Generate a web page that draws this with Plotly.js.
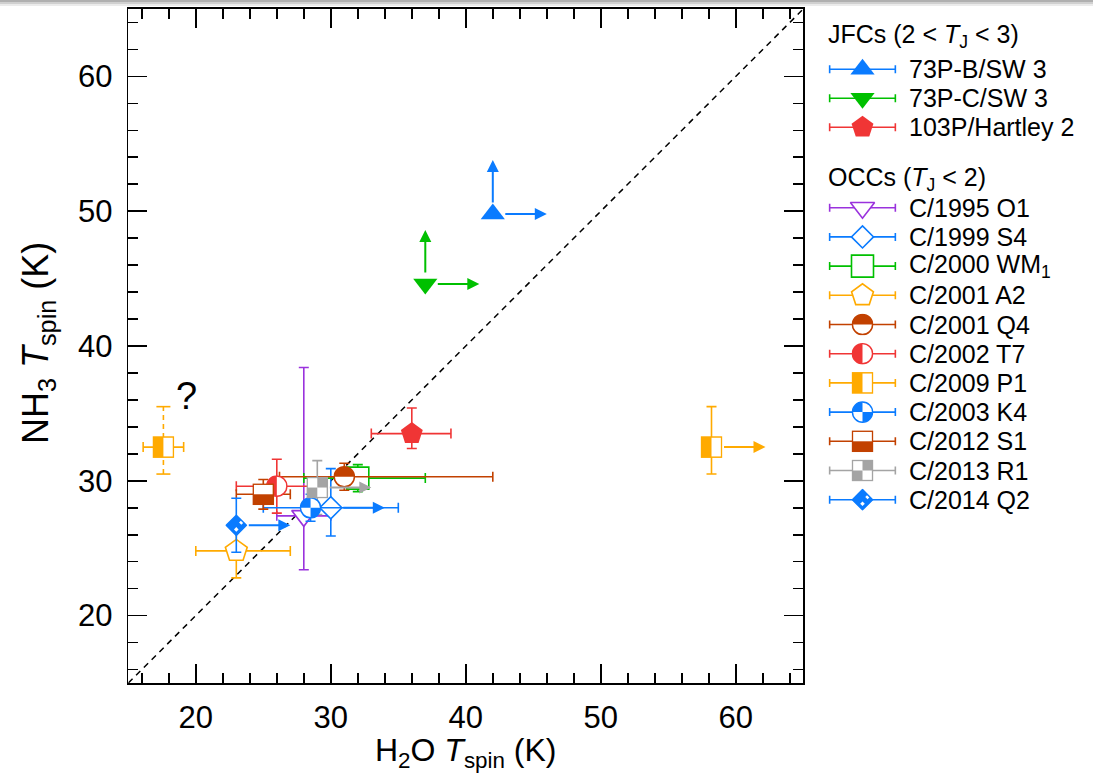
<!DOCTYPE html>
<html><head><meta charset="utf-8">
<script src="https://cdn.plot.ly/plotly-3.0.1.min.js"></script>
<style>html,body{margin:0;padding:0;background:#fff}</style>
</head><body><div id="chart" style="width:1093px;height:774px"></div>
<script>
// ---------------- DATA ----------------
const pointComet   = ['73P-B/SW 3','73P-C/SW 3','103P/Hartley 2','C/1995 O1','C/1999 S4','C/2000 WM1','C/2001 A2','C/2001 Q4','C/2002 T7','C/2009 P1','C/2009 P1','C/2003 K4','C/2012 S1','C/2013 R1','C/2014 Q2'];
const h2oTspin     = [42,   37,   36,  28,   30,  32,  23,  31,  26,  17.6, 58.2, 28.5, 25,  29,  23];
const nh3Tspin     = [49.8, 44.6, 33.5,27.4, 28,  30.2,24.8,30.3,29.6,32.5, 32.5, 28,   29,  29.5,26.7];
const h2oErrPlus   = [0,    0,    2.9, 2,    0,   5,   4,   11,  3,   1.5,  0,    6.5,  2,   0,   0];
const h2oErrMinus  = [0,    0,    3,   2,    0,   4,   3,   4.8, 3,   1.5,  0,    3.5,  2,   0,   0];
const nh3ErrPlus   = [0,    0,    1.9, 11,   2.9, 1,   2,   1,   2,   3,    3,    1,    1.1, 2,   2];
const nh3ErrMinus  = [0,    0,    1.1, 4,    2.1, 1,   2,   1,   2,   2,    2,    1,    1.1, 2,   2];
const h2oLowerLimit= [1,    1,    0,   0,    1,   0,   0,   0,   0,   0,    1,    0,    0,   1,   1];
const nh3LowerLimit= [1,    1,    0,   0,    0,   0,   0,   0,   0,   0,    0,    0,    0,   0,   0];
const nh3Uncertain = [0,    0,    0,   0,    0,   0,   0,   0,   0,   1,    0,    0,    0,   0,   0];
const limitArrowLen = 4;

const jfcNames = ['73P-B/SW 3','73P-C/SW 3','103P/Hartley 2'];
const occNames = ['C/1995 O1','C/1999 S4','C/2000 WM1','C/2001 A2','C/2001 Q4','C/2002 T7','C/2009 P1','C/2003 K4','C/2012 S1','C/2013 R1','C/2014 Q2'];
const jfcHeader = 'JFCs (2 &lt; <i>T</i><sub>J</sub> &lt; 3)';
const occHeader = 'OCCs (<i>T</i><sub>J</sub> &lt; 2)';
const questionMark = {text: '?', x: 19.3, y: 36.3};

// ---------------- STYLE ----------------
const C = {blue:'#0a7bff', green:'#00c000', red:'#f03535', purple:'#9a32dd', orange:'#ffaa00', brown:'#c24100', gray:'#a4a4a4'};
const style = {
  '73P-B/SW 3':     {c:C.blue,   kind:'triangle-up',   fill:true},
  '73P-C/SW 3':     {c:C.green,  kind:'triangle-down', fill:true},
  '103P/Hartley 2': {c:C.red,    kind:'pentagon',      fill:true},
  'C/1995 O1':      {c:C.purple, kind:'triangle-down', fill:false},
  'C/1999 S4':      {c:C.blue,   kind:'diamond',       fill:false},
  'C/2000 WM1':     {c:C.green,  kind:'square',        fill:false},
  'C/2001 A2':      {c:C.orange, kind:'pentagon',      fill:false},
  'C/2001 Q4':      {c:C.brown,  kind:'img', img:'circTop'},
  'C/2002 T7':      {c:C.red,    kind:'img', img:'circLeft'},
  'C/2009 P1':      {c:C.orange, kind:'img', img:'sqLeft'},
  'C/2003 K4':      {c:C.blue,   kind:'img', img:'circQuad'},
  'C/2012 S1':      {c:C.brown,  kind:'img', img:'sqBottom'},
  'C/2013 R1':      {c:C.gray,   kind:'img', img:'sqCheck'},
  'C/2014 Q2':      {c:C.blue,   kind:'img', img:'diaCheck'}
};
const labelHtml = n => n === 'C/2000 WM1' ? 'C/2000 WM<sub>1</sub>' : n;
const FONT = 'Liberation Sans, Arial, Helvetica, sans-serif';
const W = 1093, H = 774;
const plotL = 128.3, plotR = 803.3, plotT = 9, plotB = 683;
const xRange = [15, 65], yRange = [15, 65];
const pxPerX = (plotR - plotL) / (xRange[1] - xRange[0]);
const pxPerY = (plotB - plotT) / (yRange[1] - yRange[0]);
const MS = 22;

function svgUri(kind, c) {
  const sw = 1.6;
  let body = '';
  if (kind === 'circTop') {
    body = `<circle cx='12' cy='12' r='11' fill='white'/><path d='M1,12 A11,11 0 0 1 23,12 Z' fill='${c}'/><circle cx='12' cy='12' r='11' fill='none' stroke='${c}' stroke-width='${sw}'/>`;
  } else if (kind === 'circLeft') {
    body = `<circle cx='12' cy='12' r='11' fill='white'/><path d='M12,1 A11,11 0 0 0 12,23 Z' fill='${c}'/><circle cx='12' cy='12' r='11' fill='none' stroke='${c}' stroke-width='${sw}'/>`;
  } else if (kind === 'circQuad') {
    body = `<circle cx='12' cy='12' r='11' fill='white'/><path d='M12,12 L1,12 A11,11 0 0 1 12,1 Z' fill='${c}'/><path d='M12,12 L23,12 A11,11 0 0 1 12,23 Z' fill='${c}'/><circle cx='12' cy='12' r='11' fill='none' stroke='${c}' stroke-width='${sw}'/>`;
  } else if (kind === 'sqLeft') {
    body = `<rect x='1' y='1' width='22' height='22' fill='white'/><rect x='1' y='1' width='11' height='22' fill='${c}'/><rect x='1' y='1' width='22' height='22' fill='none' stroke='${c}' stroke-width='${sw}'/>`;
  } else if (kind === 'sqBottom') {
    body = `<rect x='1' y='1' width='22' height='22' fill='white'/><rect x='1' y='12' width='22' height='11' fill='${c}'/><rect x='1' y='1' width='22' height='22' fill='none' stroke='${c}' stroke-width='${sw}'/>`;
  } else if (kind === 'sqCheck') {
    body = `<rect x='1' y='1' width='22' height='22' fill='white'/><rect x='12' y='1' width='11' height='11' fill='${c}'/><rect x='1' y='12' width='11' height='11' fill='${c}'/><rect x='1' y='1' width='22' height='22' fill='none' stroke='${c}' stroke-width='${sw}'/>`;
  } else if (kind === 'diaCheck') {
    body = `<polygon points='12,1 23,12 12,23 1,12' fill='${c}'/><polygon points='17.5,6.5 20,9 17.5,11.5 15,9' fill='white'/><polygon points='12,14 14.5,16.5 12,19 9.5,16.5' fill='white'/><polygon points='12,1 23,12 12,23 1,12' fill='none' stroke='${c}' stroke-width='${sw}'/>`;
  }
  const svg = `<svg xmlns='http://www.w3.org/2000/svg' width='24' height='24' viewBox='0 0 24 24'>${body}</svg>`;
  return 'data:image/svg+xml;charset=utf-8,' + encodeURIComponent(svg);
}

function nativeMarker(st, size) {
  const sz = st.kind === 'diamond' ? 17 : (st.kind === 'pentagon' ? 23 : (st.kind.startsWith('triangle') ? 21 : size));
  return {symbol: st.kind, size: sz, color: st.fill ? st.c : 'white', line: {color: st.c, width: st.fill ? 0 : 1.6}};
}

const traces = [];
const images = [];
const annotations = [];

// diagonal one-to-one line
traces.push({x: xRange, y: yRange, mode: 'lines', line: {color: 'black', width: 1.5, dash: '6px,5px'}, hoverinfo: 'skip', xaxis: 'x', yaxis: 'y'});

// data points
for (let i = 0; i < pointComet.length; i++) {
  const st = style[pointComet[i]];
  const hasX = h2oErrPlus[i] + h2oErrMinus[i] > 0;
  const hasY = (nh3ErrPlus[i] + nh3ErrMinus[i] > 0) && !nh3Uncertain[i];
  if (nh3Uncertain[i]) {
    traces.push({x: [h2oTspin[i], h2oTspin[i]], y: [nh3Tspin[i] - nh3ErrMinus[i], nh3Tspin[i] + nh3ErrPlus[i]],
      mode: 'lines+markers', line: {color: st.c, width: 1.6, dash: '5px,4px'},
      marker: {symbol: 'line-ew', size: 10, line: {color: st.c, width: 1.6}}, xaxis: 'x', yaxis: 'y', cliponaxis: false});
  }
  const tr = {x: [h2oTspin[i]], y: [nh3Tspin[i]], mode: 'markers', xaxis: 'x', yaxis: 'y', cliponaxis: false,
    marker: st.kind === 'img' ? {size: MS, color: 'rgba(0,0,0,0)'} : nativeMarker(st, MS)};
  if (hasX) tr.error_x = {type: 'data', symmetric: false, array: [h2oErrPlus[i]], arrayminus: [h2oErrMinus[i]], color: st.c, thickness: 1.6, width: 5};
  if (hasY) tr.error_y = {type: 'data', symmetric: false, array: [nh3ErrPlus[i]], arrayminus: [nh3ErrMinus[i]], color: st.c, thickness: 1.6, width: 5};
  traces.push(tr);
  if (st.kind === 'img') {
    images.push({source: svgUri(st.img, st.c), xref: 'x', yref: 'y', x: h2oTspin[i], y: nh3Tspin[i],
      sizex: MS / pxPerX, sizey: MS / pxPerY, xanchor: 'center', yanchor: 'middle', sizing: 'stretch', layer: 'above'});
  }
  const arrowBase = {xref: 'x', yref: 'y', axref: 'x', ayref: 'y', showarrow: true, text: '', arrowhead: 2, arrowsize: 1.2, arrowwidth: 2, arrowcolor: st.c, startstandoff: 11};
  if (h2oLowerLimit[i]) annotations.push(Object.assign({}, arrowBase, {x: h2oTspin[i] + limitArrowLen, y: nh3Tspin[i], ax: h2oTspin[i], ay: nh3Tspin[i]}));
  if (nh3LowerLimit[i]) annotations.push(Object.assign({}, arrowBase, {x: h2oTspin[i], y: nh3Tspin[i] + limitArrowLen, ax: h2oTspin[i], ay: nh3Tspin[i], startstandoff: 10}));
}

annotations.push({xref: 'x', yref: 'y', x: questionMark.x, y: questionMark.y, text: questionMark.text, showarrow: false, font: {family: FONT, size: 38, color: 'black'}});

// ---------------- LEGEND (on a pixel-unit helper axis) ----------------
const legX0 = 819.75;
const lineX0 = 830, lineX1 = 895.7, markX = 862.5, textX = 907;
const LEGFONT = 25;
function legendRow(name, rowY) {
  const st = style[name];
  const yy = H - rowY;
  const tr = {x: [markX], y: [yy], mode: 'markers', xaxis: 'x2', yaxis: 'y2', cliponaxis: false,
    error_x: {type: 'constant', value: (lineX1 - lineX0) / 2, color: st.c, thickness: 1.6, width: 4},
    marker: st.kind === 'img' ? {size: MS, color: 'rgba(0,0,0,0)'} : nativeMarker(st, MS)};
  traces.push(tr);
  if (st.kind === 'img') images.push({source: svgUri(st.img, st.c), xref: 'x2', yref: 'y2', x: markX, y: yy, sizex: MS, sizey: MS, xanchor: 'center', yanchor: 'middle', sizing: 'stretch', layer: 'above'});
  annotations.push({xref: 'x2', yref: 'y2', x: textX, y: yy, text: labelHtml(name), showarrow: false, xanchor: 'left', yanchor: 'middle', font: {family: FONT, size: LEGFONT, color: 'black'}});
}
annotations.push({xref: 'x2', yref: 'y2', x: 826, y: H - 36, text: jfcHeader, showarrow: false, xanchor: 'left', yanchor: 'middle', font: {family: FONT, size: LEGFONT, color: 'black'}});
jfcNames.forEach((n, k) => legendRow(n, 69.3 + k * 29));
annotations.push({xref: 'x2', yref: 'y2', x: 826, y: H - 179, text: occHeader, showarrow: false, xanchor: 'left', yanchor: 'middle', font: {family: FONT, size: LEGFONT, color: 'black'}});
occNames.forEach((n, k) => legendRow(n, 207.7 + k * 29.2));

// axis titles
annotations.push({xref: 'paper', yref: 'paper', x: (plotL + plotR) / 2 / W, y: 1 - 752 / H, text: 'H<sub>2</sub>O <i>T</i><sub>spin</sub> (K)', showarrow: false, xanchor: 'center', yanchor: 'middle', font: {family: FONT, size: 32, color: 'black'}});
annotations.push({xref: 'paper', yref: 'paper', x: 38 / W, y: 1 - 343 / H, text: 'NH<sub>3</sub> <i>T</i><sub>spin</sub> (K)', textangle: -90, showarrow: false, xanchor: 'center', yanchor: 'middle', font: {family: FONT, size: 36, color: 'black'}});

const axisCommon = {showline: true, linecolor: 'black', linewidth: 1.6, mirror: 'allticks', ticks: 'inside', ticklen: 19, tickwidth: 1.6, tickcolor: 'black',
  dtick: 10, tick0: 0, showgrid: false, zeroline: false, fixedrange: true, automargin: false,
  minor: {dtick: 2, tick0: 0, ticks: 'inside', ticklen: 10, tickwidth: 1.6, tickcolor: 'black', showgrid: false},
  tickfont: {family: FONT, size: 31, color: 'black'}};

const layout = {
  width: W, height: H, margin: {l: 0, r: 0, t: 0, b: 0}, paper_bgcolor: 'white', plot_bgcolor: 'white', showlegend: false,
  xaxis: Object.assign({}, axisCommon, {domain: [plotL / W, plotR / W], range: xRange, anchor: 'y', ticklabelstandoff: 6}),
  yaxis: Object.assign({}, axisCommon, {domain: [1 - plotB / H, 1 - plotT / H], range: yRange, anchor: 'x', ticklabelstandoff: 8}),
  xaxis2: {domain: [legX0 / W, 1], range: [legX0, W], visible: false, fixedrange: true, anchor: 'y2'},
  yaxis2: {domain: [0, 1], range: [0, H], visible: false, fixedrange: true, anchor: 'x2'},
  images: images, annotations: annotations,
  shapes: [
    {type: 'rect', xref: 'paper', yref: 'paper', x0: 0, x1: 1, y0: 1 - 2 / H, y1: 1, fillcolor: '#b0b0b0', line: {width: 0}},
    {type: 'rect', xref: 'paper', yref: 'paper', x0: 0, x1: 1, y0: 1 - 4 / H, y1: 1 - 2 / H, fillcolor: '#d0d0d0', line: {width: 0}},
    {type: 'rect', xref: 'paper', yref: 'paper', x0: 0, x1: 1, y0: 1 - 6 / H, y1: 1 - 4 / H, fillcolor: '#ebebeb', line: {width: 0}}
  ]
};
Plotly.newPlot('chart', traces, layout, {displayModeBar: false, staticPlot: true});
</script></body></html>
